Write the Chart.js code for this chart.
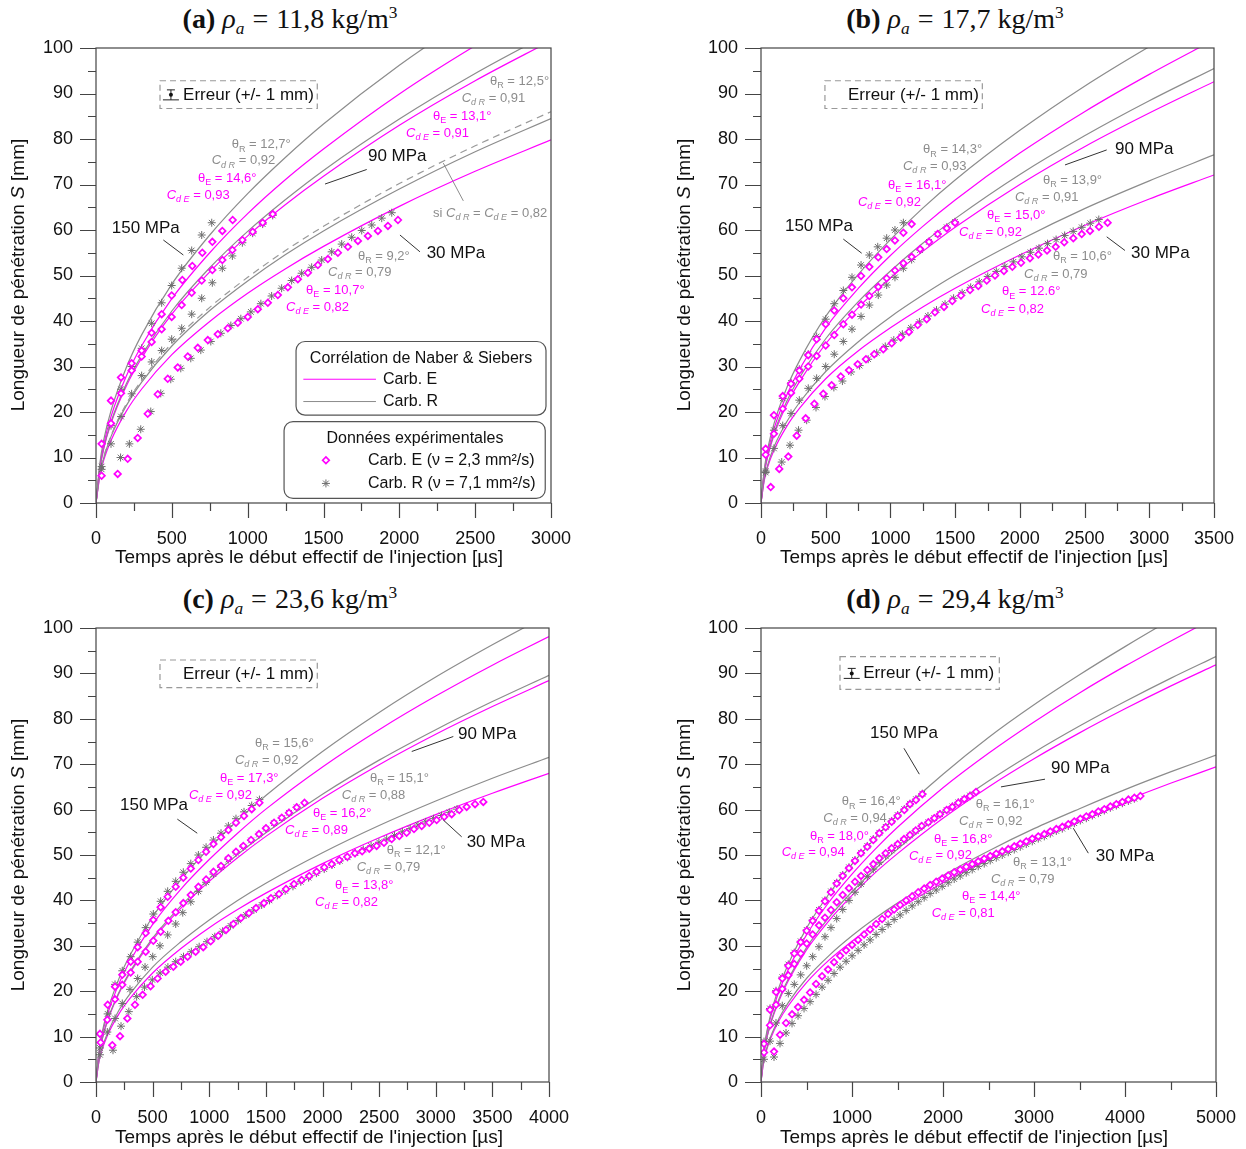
<!DOCTYPE html>
<html>
<head>
<meta charset="utf-8">
<script src="https://cdn.jsdelivr.net/npm/chart.js@4.4.0/dist/chart.umd.min.js"></script>
<style>
  body { margin: 0; background: #fff; width: 1246px; height: 1149px; position: relative; overflow: hidden;
         font-family: "Liberation Sans", Arial, sans-serif; color: #111; }
  canvas { position: absolute; }
  .ttl { position: absolute; font-family: "Liberation Serif", serif; font-size: 28px; white-space: nowrap;
         transform: translate(-50%, -50%); }
  .ttl sub, .ttl sup { font-size: 0.62em; }
  .ttl .eq { margin: 0 8px; }
  .xt { position: absolute; font-size: 19px; white-space: nowrap; transform: translate(-50%, -50%); }
  .yt { position: absolute; font-size: 19px; white-space: nowrap; transform: translate(-50%, -50%) rotate(-90deg); }
</style>
</head>
<body>
<div class="ttl" style="left:290px;top:21px"><b>(a)</b> <i>ρ<sub>a</sub></i><span class="eq">=</span>11,8 kg/m<sup>3</sup></div>
<div class="ttl" style="left:955px;top:21px"><b>(b)</b> <i>ρ<sub>a</sub></i><span class="eq">=</span>17,7 kg/m<sup>3</sup></div>
<div class="ttl" style="left:290px;top:601px"><b>(c)</b> <i>ρ<sub>a</sub></i><span class="eq">=</span>23,6 kg/m<sup>3</sup></div>
<div class="ttl" style="left:955px;top:601px"><b>(d)</b> <i>ρ<sub>a</sub></i><span class="eq">=</span>29,4 kg/m<sup>3</sup></div>

<canvas id="ca" width="620" height="575" style="left:0;top:0"></canvas>
<canvas id="cb" width="620" height="575" style="left:665px;top:0"></canvas>
<canvas id="cc" width="620" height="575" style="left:0;top:580px"></canvas>
<canvas id="cd" width="620" height="575" style="left:665px;top:580px"></canvas>

<div class="yt" style="left:18px;top:275px">Longueur de pénétration <i>S</i> [mm]</div>
<div class="yt" style="left:684px;top:275px">Longueur de pénétration <i>S</i> [mm]</div>
<div class="yt" style="left:18px;top:855px">Longueur de pénétration <i>S</i> [mm]</div>
<div class="yt" style="left:684px;top:855px">Longueur de pénétration <i>S</i> [mm]</div>
<div class="xt" style="left:309px;top:557px">Temps après le début effectif de l'injection [µs]</div>
<div class="xt" style="left:974px;top:557px">Temps après le début effectif de l'injection [µs]</div>
<div class="xt" style="left:309px;top:1137px">Temps après le début effectif de l'injection [µs]</div>
<div class="xt" style="left:974px;top:1137px">Temps après le début effectif de l'injection [µs]</div>

<script>
var MAG = '#ff00ff';
var GRY = '#8c8c8c';
var FONT = '"Liberation Sans", Arial, sans-serif';

// ---- (a) rho_a = 11,8 : Naber & Siebers curves
var tCurveA = [0, 25, 50, 100, 200, 300, 500, 750, 1000, 1250, 1500, 2000, 2500, 3000];
var a150R = [0, 8.6, 13.7, 20.4, 29.8, 36.9, 48.1, 58.9, 68.0, 76.0, 83.3, 96.2, 107.5, 117.8];
var a150E = [0, 8.0, 12.8, 19.1, 27.9, 34.5, 44.9, 55.0, 63.6, 71.1, 77.8, 89.9, 100.5, 110.1];
var a90R = [0, 7.5, 12.0, 17.9, 26.2, 32.4, 42.2, 51.7, 59.7, 66.7, 73.1, 84.4, 94.4, 103.4];
var a90E = [0, 7.4, 11.8, 17.6, 25.7, 31.8, 41.5, 50.8, 58.7, 65.6, 71.8, 83.0, 92.8, 101.6];
var a30Cd82 = [0, 6.3, 10.0, 14.9, 21.8, 26.9, 35.1, 43.0, 49.6, 55.5, 60.8, 70.2, 78.5, 86.0];
var a30R = [0, 6.2, 9.8, 14.7, 21.4, 26.5, 34.5, 42.3, 48.8, 54.6, 59.8, 69.0, 77.2, 84.5];
var a30E = [0, 5.8, 9.3, 13.8, 20.2, 25.0, 32.6, 39.9, 46.1, 51.5, 56.4, 65.2, 72.9, 79.8];
// (a) measurements
var aT150E = [37, 99, 165, 235, 301, 367, 433, 499, 569, 635, 701, 767, 833, 901];
var aS150E = [13, 22.5, 27.6, 30.7, 33.5, 37.4, 41.5, 45.6, 49, 52.1, 55, 57.4, 59.8, 62.2];
var aT90E = [37, 99, 165, 235, 301, 367, 433, 499, 565, 631, 697, 767, 833, 899, 965, 1033, 1099, 1165];
var aS90E = [6, 17.5, 24.1, 29.1, 32.2, 35.4, 38.2, 40.9, 43.5, 46.2, 48.9, 51.2, 53.4, 55.6, 57.8, 59.6, 61.6, 63.5];
var aT30E = [143, 209, 275, 341, 407, 473, 539, 605, 671, 737, 803, 869, 935, 1001, 1067, 1133, 1199, 1265, 1331, 1397, 1463, 1529, 1595, 1661, 1727, 1793, 1859, 1925, 1991];
var aS30E = [6.4, 9.7, 14.3, 19.6, 23.9, 27.3, 29.8, 32.2, 34.1, 35.8, 37.1, 38.4, 39.6, 40.9, 42.6, 44, 45.7, 47.4, 49.2, 50.6, 52.3, 53.6, 55, 56.3, 57.6, 58.7, 59.8, 60.9, 62.2];
var aT150R = [37, 99, 165, 235, 301, 367, 433, 499, 565, 631, 697, 763];
var aS150R = [8, 17, 25, 30, 34, 39.5, 44, 47.8, 51.6, 55.5, 58.9, 61.6];
var aT90R = [37, 99, 165, 235, 301, 367, 433, 499, 565, 631, 697, 767, 833, 899, 965, 1033, 1099, 1165];
var aS90R = [7.4, 13, 19, 24, 28, 31, 33.5, 36, 38.4, 41.5, 45, 48.4, 51.6, 54.3, 57.2, 59.3, 61.3, 63.2];
var aT30R = [162, 220, 295, 361, 427, 493, 559, 625, 691, 757, 823, 889, 955, 1021, 1087, 1158, 1224, 1290, 1356, 1422, 1488, 1554, 1620, 1686, 1752, 1818, 1884, 1950];
var aS30R = [10, 13, 16.2, 20.1, 24.1, 27.2, 29.6, 31.8, 33.6, 35.5, 37.3, 39, 40.5, 42, 43.8, 45.5, 47.2, 48.9, 50.5, 51.8, 53.4, 55.2, 56.9, 58.4, 59.9, 61.1, 62.6, 63.8];

// ---- (b) rho_a = 17,7
var tCurveB = [0, 25, 50, 100, 200, 300, 500, 750, 1000, 1250, 1500, 2000, 2500, 3000, 3500];
var b150R = [0, 7.3, 11.7, 17.4, 25.4, 31.4, 41.0, 50.2, 57.9, 64.8, 71.0, 81.9, 91.6, 100.3, 108.4];
var b150E = [0, 6.9, 10.9, 16.3, 23.8, 29.5, 38.5, 47.1, 54.4, 60.8, 66.6, 76.9, 86.0, 94.2, 101.8];
var b90R = [0, 6.5, 10.3, 15.3, 22.4, 27.7, 36.1, 44.2, 51.0, 57.1, 62.5, 72.2, 80.7, 88.4, 95.5];
var b90E = [0, 6.3, 10.0, 14.9, 21.7, 26.8, 35.0, 42.9, 49.5, 55.3, 60.6, 70.0, 78.3, 85.7, 92.6];
var b30R = [0, 5.2, 8.2, 12.3, 17.9, 22.2, 28.9, 35.4, 40.9, 45.7, 50.1, 57.8, 64.7, 70.8, 76.5];
var b30E = [0, 4.9, 7.8, 11.6, 16.9, 20.9, 27.3, 33.4, 38.5, 43.1, 47.2, 54.5, 61.0, 66.8, 72.1];
var bT150E = [36, 100, 168, 232, 296, 365, 430, 500, 566, 636, 703, 773, 837, 906, 971, 1035, 1100, 1164];
var bS150E = [11.9, 19.3, 23.5, 26.2, 29.1, 32.5, 36, 39.3, 42.3, 45, 47.4, 49.9, 51.9, 54, 55.8, 57.7, 59.4, 61.3];
var bT90E = [36, 100, 168, 232, 296, 365, 430, 500, 566, 636, 703, 773, 837, 906, 971, 1035, 1100, 1164, 1229, 1298, 1365, 1435, 1499];
var bS90E = [10.6, 15.2, 20.7, 24.2, 27.3, 30, 32.3, 34.6, 36.9, 39.3, 41.4, 43.6, 45.5, 47.5, 49.4, 51.1, 52.7, 54.1, 55.8, 57.4, 59.1, 60.4, 61.6];
var bT30E = [75, 141, 211, 276, 345, 412, 481, 546, 616, 680, 747, 811, 875, 945, 1010, 1079, 1143, 1211, 1280, 1344, 1414, 1478, 1545, 1615, 1679, 1744, 1808, 1877, 1942, 2009, 2078, 2143, 2210, 2277, 2343, 2413, 2478, 2542, 2611, 2678];
var bS30E = [3.5, 7.5, 10.2, 14.8, 18.6, 21.8, 24, 25.9, 27.8, 29.2, 30.5, 31.6, 32.7, 33.8, 35.1, 36.4, 37.6, 39.1, 40.4, 41.9, 43.1, 44.4, 45.6, 46.8, 47.7, 48.9, 50, 51, 51.9, 52.8, 53.8, 54.6, 55.5, 56.3, 57.3, 58.2, 59.1, 59.8, 60.7, 61.6];
var bT150R = [36, 100, 168, 232, 296, 365, 430, 500, 566, 636, 703, 773, 837, 902, 971, 1035, 1100];
var bS150R = [6.7, 16, 23, 26.4, 29.4, 32.7, 36.6, 40.4, 43.8, 46.7, 49.6, 52.3, 54.5, 56.3, 58.2, 60, 61.6];
var bT90R = [36, 100, 168, 232, 296, 365, 430, 500, 566, 636, 703, 773, 837, 906, 971, 1035, 1100, 1164, 1229, 1298, 1365, 1435, 1499];
var bS90R = [7, 12, 17, 19.7, 22.6, 25.2, 27.4, 30, 32.7, 35.5, 38.2, 41, 43.5, 45.7, 47.9, 49.6, 51.6, 53.5, 55.6, 57.4, 59.1, 60.6, 61.8];
var bT30R = [160, 224, 290, 353, 425, 494, 563, 629, 696, 762, 828, 894, 960, 1026, 1092, 1158, 1224, 1290, 1356, 1422, 1488, 1554, 1620, 1686, 1752, 1818, 1884, 1950, 2016, 2082, 2148, 2214, 2280, 2346, 2412, 2478, 2544, 2610];
var bS30R = [9, 12.7, 16, 18.2, 21, 23.4, 25.4, 26.8, 28.8, 30.2, 31.6, 33, 34.4, 35.8, 37.1, 38.5, 39.8, 41.1, 42.4, 43.7, 45, 46.2, 47.4, 48.6, 49.8, 50.9, 52, 53, 54.1, 55.1, 56, 57, 57.9, 58.8, 59.7, 60.6, 61.5, 62.3];

// ---- (c) rho_a = 23,6
var tCurveC = [0, 25, 50, 100, 200, 300, 500, 750, 1000, 1250, 1500, 2000, 2500, 3000, 3500, 4000];
var c150R = [0, 6.5, 10.4, 15.5, 22.6, 27.9, 36.4, 44.6, 51.5, 57.6, 63.1, 72.8, 81.4, 89.2, 96.3, 103.0];
var c150E = [0, 6.2, 9.9, 14.7, 21.5, 26.6, 34.7, 42.5, 49.0, 54.8, 60.1, 69.4, 77.6, 85.0, 91.8, 98.1];
var c90R = [0, 5.7, 9.0, 13.5, 19.6, 24.3, 31.7, 38.8, 44.8, 50.1, 54.9, 63.4, 70.9, 77.6, 83.8, 89.6];
var c90E = [0, 5.6, 8.9, 13.3, 19.4, 24.0, 31.3, 38.3, 44.2, 49.4, 54.1, 62.5, 69.9, 76.6, 82.7, 88.4];
var c30R = [0, 4.5, 7.2, 10.7, 15.7, 19.4, 25.3, 30.9, 35.7, 40.0, 43.8, 50.5, 56.5, 61.9, 66.9, 71.5];
var c30E = [0, 4.3, 6.8, 10.2, 14.9, 18.4, 24.0, 29.4, 34.0, 38.0, 41.6, 48.1, 53.8, 58.9, 63.6, 68.0];
var cT150E = [35, 103, 168, 232, 306, 368, 439, 506, 571, 633, 704, 771, 837, 904, 972, 1037, 1104, 1169, 1236, 1307, 1375, 1443];
var cS150E = [10.6, 17, 21, 23.6, 26.5, 29.7, 32.8, 35.7, 38.5, 40.8, 43, 45, 47, 48.9, 50.7, 52.4, 53.9, 55.5, 57.1, 58.6, 60.1, 61.5];
var cT90E = [41, 100, 168, 232, 306, 368, 439, 506, 571, 639, 704, 771, 837, 904, 972, 1037, 1104, 1169, 1236, 1301, 1369, 1439, 1501, 1572, 1640, 1704, 1772, 1841];
var cS90E = [8.7, 13.7, 18.2, 21.4, 24.1, 26.5, 28.7, 31.1, 33.1, 35.5, 37.4, 39.4, 41.2, 43, 44.6, 46.3, 47.6, 49.3, 50.7, 52, 53.3, 54.6, 55.9, 57.1, 58.2, 59.3, 60.5, 61.5];
var cT30E = [144, 212, 277, 344, 412, 482, 544, 615, 683, 748, 809, 880, 947, 1013, 1080, 1148, 1213, 1280, 1351, 1413, 1483, 1545, 1616, 1678, 1748, 1816, 1883, 1948, 2016, 2081, 2148, 2219, 2286, 2350, 2413, 2478, 2543, 2611, 2678, 2743, 2808, 2876, 2943, 3008, 3075, 3141, 3208, 3273, 3347, 3420];
var cS30E = [8.1, 10.1, 14, 17, 19.2, 21.1, 22.8, 24.3, 25.4, 26.5, 27.6, 28.7, 29.7, 31, 32.2, 33.5, 34.8, 36.1, 37.2, 38.3, 39.4, 40.5, 41.4, 42.5, 43.6, 44.5, 45.4, 46.3, 47.3, 48, 48.9, 49.6, 50.4, 50.8, 51.4, 52, 52.7, 53.5, 54.2, 54.9, 55.7, 56.4, 57.1, 57.7, 58.4, 59, 59.9, 60.6, 61.2, 61.7];
var cT150R = [35, 103, 168, 232, 306, 368, 439, 506, 571, 633, 704, 771, 837, 904, 972, 1037, 1104, 1169, 1236, 1307, 1375, 1443];
var cS150R = [7.5, 15, 21.5, 24.5, 27.6, 30.8, 34, 37, 39.8, 42, 44.2, 46.2, 48.1, 50, 51.7, 53.3, 54.8, 56.4, 58, 59.5, 60.9, 62.2];
var cT90R = [35, 100, 168, 232, 300, 368, 433, 501, 565, 633, 704, 766, 837, 904, 972, 1037, 1104, 1169, 1236, 1301, 1369, 1439, 1501, 1572, 1640, 1704, 1772];
var cS90R = [6, 11, 14, 17.3, 20.4, 22.8, 25.3, 27.6, 30, 32.4, 34.8, 37.3, 39.7, 42, 44, 45.8, 47.3, 49, 50.5, 51.8, 53.2, 54.5, 55.8, 57, 58.1, 59.3, 60.5];
var cT30R = [150, 221, 290, 359, 428, 497, 566, 635, 704, 773, 842, 911, 980, 1049, 1118, 1187, 1256, 1325, 1394, 1463, 1532, 1601, 1670, 1739, 1808, 1877, 1946, 2015, 2084, 2153, 2222, 2291, 2360, 2429, 2498, 2567, 2636, 2705, 2774, 2843, 2912, 2981, 3050, 3119, 3188];
var cS30R = [7, 12.3, 15.5, 18.8, 20.9, 22.5, 24, 25.3, 26.5, 27.6, 28.7, 29.8, 30.9, 32, 33.2, 34.4, 35.6, 36.8, 37.9, 39, 40, 41.1, 42.1, 43.1, 44.1, 45, 46, 46.9, 47.8, 48.7, 49.5, 50.4, 51.2, 52, 52.8, 53.5, 54.3, 55.1, 55.8, 56.6, 57.3, 58, 58.7, 59.4, 60.1];

// ---- (d) rho_a = 29,4
var tCurveD = [0, 25, 50, 100, 200, 300, 500, 750, 1000, 1250, 1500, 2000, 2500, 3000, 3500, 4000, 4500, 5000];
var d150R = [0, 6.1, 9.6, 14.4, 21.0, 26.0, 33.9, 41.5, 48.0, 53.6, 58.8, 67.8, 75.9, 83.1, 89.7, 95.9, 101.8, 107.3];
var d150E = [0, 5.8, 9.2, 13.8, 20.1, 24.8, 32.4, 39.7, 45.8, 51.2, 56.1, 64.8, 72.4, 79.3, 85.7, 91.6, 97.1, 102.4];
var d90R = [0, 5.3, 8.4, 12.6, 18.4, 22.7, 29.6, 36.3, 41.9, 46.8, 51.3, 59.3, 66.3, 72.6, 78.4, 83.8, 88.9, 93.7];
var d90E = [0, 5.2, 8.3, 12.4, 18.0, 22.3, 29.1, 35.6, 41.1, 46.0, 50.3, 58.1, 65.0, 71.2, 76.9, 82.2, 87.2, 91.9];
var d30R = [0, 4.1, 6.5, 9.7, 14.1, 17.5, 22.8, 27.9, 32.2, 36.0, 39.4, 45.5, 50.9, 55.8, 60.2, 64.4, 68.3, 72.0];
var d30E = [0, 3.9, 6.2, 9.3, 13.6, 16.8, 21.9, 26.9, 31.0, 34.7, 38.0, 43.9, 49.1, 53.7, 58.0, 62.0, 65.8, 69.4];
var dT150 = [33, 99, 165, 234, 300, 366, 436, 502, 568, 637, 703, 769, 832, 898, 967, 1033, 1099, 1168, 1234, 1300, 1370, 1436, 1502, 1575, 1637, 1703, 1773];
var dS150E = [8.4, 15.9, 19.8, 22.8, 25.6, 28.3, 30.8, 33.3, 35.5, 37.7, 39.8, 41.8, 43.7, 45.4, 47.1, 48.7, 50.4, 51.8, 53.3, 54.8, 56.1, 57.3, 58.6, 59.9, 61.2, 62.1, 63.4];
var dS150R = [8.9, 16.2, 20.1, 23.1, 25.9, 28.5, 31, 33.5, 35.7, 37.9, 40, 42, 43.9, 45.6, 47.3, 48.9, 50.5, 52, 53.5, 54.9, 56.2, 57.5, 58.8, 60.1, 61.3, 62.3, 63.5];
var dT90 = [33, 99, 165, 234, 300, 366, 436, 502, 568, 637, 703, 769, 832, 898, 967, 1033, 1099, 1168, 1234, 1300, 1370, 1436, 1502, 1571, 1637, 1700, 1766, 1839, 1905, 1967, 2040, 2103, 2168, 2234, 2297, 2363];
var dS90E = [6.5, 12.5, 17, 20.5, 23.5, 26, 28.3, 30.5, 32.5, 34.5, 36.2, 37.9, 39.6, 41.2, 42.7, 44.1, 45.4, 46.7, 48, 49.3, 50.4, 51.5, 52.4, 53.5, 54.4, 55.4, 56.4, 57.2, 58.1, 59, 59.9, 60.6, 61.5, 62.3, 63, 63.9];
var dS90R = [5, 9, 13, 16.8, 19.5, 21.5, 23.6, 25.6, 27.6, 29.8, 32, 34, 36, 38, 40, 41.8, 43.6, 45.3, 46.9, 48.4, 49.8, 51, 52.1, 53.2, 54.3, 55.3, 56.3, 57.2, 58.1, 59, 59.9, 60.7, 61.6, 62.4, 63.1];
var dT30 = [143, 209, 275, 341, 407, 473, 539, 605, 671, 737, 803, 869, 935, 1001, 1067, 1133, 1199, 1265, 1331, 1397, 1463, 1529, 1595, 1661, 1727, 1793, 1859, 1925, 1991, 2057, 2123, 2189, 2255, 2321, 2387, 2453, 2519, 2585, 2651, 2717, 2783, 2849, 2915, 2981, 3047, 3113, 3179, 3245, 3311, 3377, 3443, 3509, 3575, 3641, 3707, 3773, 3839, 3905, 3971, 4037, 4103, 4169];
var dS30E = [6.7, 10.4, 13.0, 14.9, 16.5, 18.1, 19.7, 21.6, 23.3, 24.8, 26.4, 27.8, 29.0, 30.2, 31.3, 32.5, 33.6, 34.8, 35.9, 37.0, 38.0, 39.0, 40.0, 40.9, 41.8, 42.6, 43.4, 44.1, 44.8, 45.5, 46.2, 46.8, 47.4, 48.0, 48.6, 49.2, 49.8, 50.3, 50.8, 51.3, 51.9, 52.5, 53.0, 53.6, 54.1, 54.6, 55.2, 55.7, 56.2, 56.8, 57.4, 58.0, 58.5, 59.0, 59.6, 60.1, 60.7, 61.2, 61.7, 62.2, 62.6, 63.0];
var dS30R = [5.5, 8.5, 10.8, 12.9, 14.6, 16.2, 17.7, 19.3, 20.9, 22.4, 23.9, 25.3, 26.6, 27.8, 29.0, 30.2, 31.3, 32.5, 33.6, 34.7, 35.8, 36.8, 37.8, 38.8, 39.7, 40.6, 41.5, 42.3, 43.1, 43.9, 44.7, 45.4, 46.1, 46.8, 47.5, 48.1, 48.8, 49.4, 50.0, 50.6, 51.2, 51.8, 52.4, 53.0, 53.6, 54.1, 54.7, 55.3, 55.8, 56.4, 57.0, 57.6, 58.1, 58.7, 59.2, 59.8, 60.4, 60.9, 61.4, 61.9, 62.4];

function pts(t, s) {
    return s.map(function (v, i) { return {x: t[i], y: v}; });
}
function curve(t, s, color, dash) {
    return {data: pts(t, s), showLine: true, borderColor: color, borderWidth: 1.2, borderDash: dash || [],
            pointRadius: 0, cubicInterpolationMode: 'monotone', order: 3};
}
function diamonds(t, s) {
    return {data: pts(t, s), showLine: false, pointStyle: 'rectRot', pointRadius: 3.3, borderWidth: 1.7,
            borderColor: MAG, backgroundColor: '#fff', order: 1};
}
function stars(t, s) {
    return {data: pts(t, s), showLine: false, pointStyle: 'star', pointRadius: 4, borderWidth: 1,
            borderColor: '#6e6e6e', backgroundColor: '#6e6e6e', order: 2};
}

// annotation helpers (positions in data units)
function th(x, y, sub, val, c) {
    return {k: 'txt', x: x, y: y, c: c, s: 13, p: [{t: 'θ'}, {t: sub, sub: 1}, {t: ' = ' + val + '°'}]};
}
function cd(x, y, sub, val, c) {
    return {k: 'txt', x: x, y: y, c: c, s: 13, p: [{t: 'C', it: 1}, {t: 'd ' + sub, sub: 1, it: 1}, {t: ' = ' + val}]};
}
function lbl(x, y, text) { return {k: 'txt', x: x, y: y, s: 17, p: text}; }
function lead(x1, y1, x2, y2, c) { return {k: 'ln', x1: x1, y1: y1, x2: x2, y2: y2, c: c || '#333'}; }

function rich(ctx, x, y, parts, size, color, align) {
    if (typeof parts === 'string') parts = [{t: parts}];
    var fonts = parts.map(function (p) {
        return (p.it ? 'italic ' : '') + (p.sub ? Math.round(size * 0.72) : size) + 'px ' + FONT;
    });
    var w = 0;
    parts.forEach(function (p, i) { ctx.font = fonts[i]; w += ctx.measureText(p.t).width; });
    var cx = align === 'center' ? x - w / 2 : x;
    ctx.fillStyle = color;
    ctx.textBaseline = 'middle';
    ctx.textAlign = 'left';
    parts.forEach(function (p, i) {
        ctx.font = fonts[i];
        ctx.fillText(p.t, cx, y + (p.sub ? size * 0.32 : 0));
        cx += ctx.measureText(p.t).width;
    });
}
function roundBox(ctx, x1, y1, x2, y2, r) {
    ctx.beginPath();
    ctx.moveTo(x1 + r, y1);
    ctx.lineTo(x2 - r, y1); ctx.arcTo(x2, y1, x2, y1 + r, r);
    ctx.lineTo(x2, y2 - r); ctx.arcTo(x2, y2, x2 - r, y2, r);
    ctx.lineTo(x1 + r, y2); ctx.arcTo(x1, y2, x1, y2 - r, r);
    ctx.lineTo(x1, y1 + r); ctx.arcTo(x1, y1, x1 + r, y1, r);
    ctx.closePath();
}

var framePlugin = {
    id: 'frame',
    afterDraw: function (chart, args, o) {
        var ctx = chart.ctx, a = chart.chartArea, x = chart.scales.x, y = chart.scales.y;
        ctx.save();
        ctx.strokeStyle = '#444';
        ctx.lineWidth = 1.2;
        ctx.strokeRect(a.left, a.top, a.right - a.left, a.bottom - a.top);
        ctx.beginPath();
        x.ticks.forEach(function (t) {
            var px = Math.round(x.getPixelForValue(t.value)) + 0.5;
            var len = Math.round(t.value) % o.xMajor === 0 ? 15 : 8;
            ctx.moveTo(px, a.bottom); ctx.lineTo(px, a.bottom + len);
        });
        y.ticks.forEach(function (t) {
            var py = Math.round(y.getPixelForValue(t.value)) + 0.5;
            var len = Math.round(t.value) % 10 === 0 ? 16 : 8;
            ctx.moveTo(a.left, py); ctx.lineTo(a.left - len, py);
        });
        ctx.stroke();
        ctx.restore();
    }
};

var notesPlugin = {
    id: 'notes',
    afterDatasetsDraw: function (chart, args, o) {
        var ctx = chart.ctx, sx = chart.scales.x, sy = chart.scales.y;
        function X(v) { return sx.getPixelForValue(v); }
        function Y(v) { return sy.getPixelForValue(v); }
        ctx.save();
        o.items.forEach(function (n) {
            if (n.k === 'txt') {
                rich(ctx, X(n.x), Y(n.y), n.p, n.s || 13, n.c || '#111', n.a);
            } else if (n.k === 'ln' || n.k === 'seg') {
                ctx.strokeStyle = n.c; ctx.lineWidth = 1; ctx.setLineDash([]);
                ctx.beginPath();
                ctx.moveTo(X(n.x1), Y(n.k === 'seg' ? n.y : n.y1));
                ctx.lineTo(X(n.x2), Y(n.k === 'seg' ? n.y : n.y2));
                ctx.stroke();
            } else if (n.k === 'dbox') {
                ctx.strokeStyle = '#999'; ctx.lineWidth = 1.2; ctx.setLineDash([6, 4]);
                ctx.strokeRect(X(n.x1), Y(n.y1), X(n.x2) - X(n.x1), Y(n.y2) - Y(n.y1));
                ctx.setLineDash([]);
            } else if (n.k === 'rbox') {
                roundBox(ctx, X(n.x1), Y(n.y1), X(n.x2), Y(n.y2), 9);
                ctx.fillStyle = '#fff'; ctx.fill();
                ctx.strokeStyle = '#555'; ctx.lineWidth = 1.2; ctx.stroke();
            } else if (n.k === 'err') {
                var cx = X(n.x), cy = Y(n.y);
                ctx.strokeStyle = '#222'; ctx.lineWidth = 1;
                ctx.beginPath();
                ctx.moveTo(cx - 4, cy - 5); ctx.lineTo(cx + 4, cy - 5);
                ctx.moveTo(cx, cy - 5); ctx.lineTo(cx, cy + 5);
                ctx.moveTo(cx - 8, cy + 5); ctx.lineTo(cx + 8, cy + 5);
                ctx.stroke();
                ctx.fillStyle = '#111';
                ctx.beginPath(); ctx.arc(cx, cy, 2, 0, Math.PI * 2); ctx.fill();
            } else if (n.k === 'dia') {
                var dx = X(n.x), dy = Y(n.y);
                ctx.strokeStyle = MAG; ctx.lineWidth = 1.7;
                ctx.beginPath();
                ctx.moveTo(dx - 3.3, dy); ctx.lineTo(dx, dy - 3.3); ctx.lineTo(dx + 3.3, dy); ctx.lineTo(dx, dy + 3.3);
                ctx.closePath(); ctx.stroke();
            } else if (n.k === 'star') {
                var qx = X(n.x), qy = Y(n.y), r = 4, d = r * Math.SQRT1_2;
                ctx.strokeStyle = '#6e6e6e'; ctx.lineWidth = 1;
                ctx.beginPath();
                ctx.moveTo(qx - r, qy); ctx.lineTo(qx + r, qy);
                ctx.moveTo(qx, qy - r); ctx.lineTo(qx, qy + r);
                ctx.moveTo(qx - d, qy - d); ctx.lineTo(qx + d, qy + d);
                ctx.moveTo(qx - d, qy + d); ctx.lineTo(qx + d, qy - d);
                ctx.stroke();
            }
        });
        ctx.restore();
    }
};

function makeChart(id, cfg) {
    return new Chart(document.getElementById(id), {
        type: 'scatter',
        data: {datasets: cfg.datasets},
        options: {
            responsive: false,
            animation: false,
            events: [],
            layout: {padding: {top: 48, right: cfg.padRight, left: 0, bottom: 0}},
            plugins: {
                legend: {display: false},
                tooltip: {enabled: false},
                frame: {xMajor: cfg.xMajor},
                notes: {items: cfg.notes}
            },
            scales: {
                x: {
                    type: 'linear', min: 0, max: cfg.xMax,
                    afterFit: function (s) { s.height = cfg.xH; },
                    grid: {display: false, drawTicks: false},
                    border: {display: false},
                    ticks: {
                        stepSize: cfg.xMajor / 2, autoSkip: false, maxRotation: 0, padding: 25,
                        color: '#111', font: {family: FONT, size: 18},
                        callback: function (v) { return Math.round(v) % cfg.xMajor === 0 ? String(v) : ''; }
                    }
                },
                y: {
                    min: 0, max: 100,
                    afterFit: function (s) { s.width = 96; },
                    grid: {display: false, drawTicks: false},
                    border: {display: false},
                    ticks: {
                        stepSize: 5, autoSkip: false, padding: 23,
                        color: '#111', font: {family: FONT, size: 18},
                        callback: function (v) { return Math.round(v) % 10 === 0 ? String(v) : ''; }
                    }
                }
            }
        },
        plugins: [framePlugin, notesPlugin]
    });
}

var siParts = [{t: 'si '}, {t: 'C', it: 1}, {t: 'd R', sub: 1, it: 1}, {t: ' = '}, {t: 'C', it: 1}, {t: 'd E', sub: 1, it: 1}, {t: ' = 0,82'}];

makeChart('ca', {
    xMax: 3000, xMajor: 500, padRight: 69, xH: 72,
    datasets: [
        diamonds(aT150E, aS150E), diamonds(aT90E, aS90E), diamonds(aT30E, aS30E),
        stars(aT150R, aS150R), stars(aT90R, aS90R), stars(aT30R, aS30R),
        curve(tCurveA, a150R, GRY), curve(tCurveA, a150E, MAG),
        curve(tCurveA, a90R, GRY), curve(tCurveA, a90E, MAG),
        curve(tCurveA, a30Cd82, '#999', [7, 5]),
        curve(tCurveA, a30R, GRY), curve(tCurveA, a30E, MAG)
    ],
    notes: [
        {k: 'dbox', x1: 422, y1: 92.8, x2: 1459, y2: 86.7},
        {k: 'err', x: 494, y: 89.7},
        lbl(574, 89.7, 'Erreur (+/- 1 mm)'),
        th(2598, 92.6, 'R', '12,5', GRY), cd(2411, 88.9, 'R', '0,91', GRY),
        th(2222, 84.9, 'E', '13,1', MAG), cd(2044, 81.3, 'E', '0,91', MAG),
        th(895, 78.7, 'R', '12,7', GRY), cd(763, 75.2, 'R', '0,92', GRY),
        th(672, 71.4, 'E', '14,6', MAG), cd(466, 67.7, 'E', '0,93', MAG),
        lbl(1793, 76.1, '90 MPa'), lead(1785, 73.3, 1510, 70.1),
        lbl(104, 60.4, '150 MPa'), lead(444, 57.8, 576, 54.5),
        lbl(2180, 54.9, '30 MPa'), lead(2004, 58.9, 2136, 55.2),
        {k: 'txt', x: 2222, y: 63.7, s: 13, c: GRY, p: siParts}, lead(2422, 66.4, 2290, 74.7, GRY),
        th(1727, 54.3, 'R', '9,2', GRY), cd(1530, 50.7, 'R', '0,79', GRY),
        th(1385, 46.8, 'E', '10,7', MAG), cd(1253, 43.0, 'E', '0,82', MAG),
        {k: 'rbox', x1: 1319, y1: 35.5, x2: 2967, y2: 19.3},
        {k: 'txt', x: 2143, y: 31.7, s: 16, a: 'center', p: 'Corrélation de Naber & Siebers'},
        {k: 'seg', x1: 1367, x2: 1846, y: 27.2, c: MAG}, {k: 'txt', x: 1892, y: 27.2, s: 16, p: 'Carb. E'},
        {k: 'seg', x1: 1367, x2: 1846, y: 22.3, c: GRY}, {k: 'txt', x: 1892, y: 22.3, s: 16, p: 'Carb. R'},
        {k: 'rbox', x1: 1240, y1: 17.9, x2: 2962, y2: 1.0},
        {k: 'txt', x: 2103, y: 14.1, s: 16, a: 'center', p: 'Données expérimentales'},
        {k: 'dia', x: 1516, y: 9.4}, {k: 'txt', x: 1793, y: 9.4, s: 16, p: 'Carb. E (ν = 2,3 mm²/s)'},
        {k: 'star', x: 1516, y: 4.3}, {k: 'txt', x: 1793, y: 4.3, s: 16, p: 'Carb. R (ν = 7,1 mm²/s)'}
    ]
});

makeChart('cb', {
    xMax: 3500, xMajor: 500, padRight: 71, xH: 72,
    datasets: [
        diamonds(bT150E, bS150E), diamonds(bT90E, bS90E), diamonds(bT30E, bS30E),
        stars(bT150R, bS150R), stars(bT90R, bS90R), stars(bT30R, bS30R),
        curve(tCurveB, b150R, GRY), curve(tCurveB, b150E, MAG),
        curve(tCurveB, b90R, GRY), curve(tCurveB, b90E, MAG),
        curve(tCurveB, b30R, GRY), curve(tCurveB, b30E, MAG)
    ],
    notes: [
        {k: 'dbox', x1: 494, y1: 92.8, x2: 1710, y2: 86.7},
        lbl(672, 89.7, 'Erreur (+/- 1 mm)'),
        th(1252, 77.6, 'R', '14,3', GRY), cd(1097, 73.9, 'R', '0,93', GRY),
        th(981, 69.9, 'E', '16,1', MAG), cd(749, 66.1, 'E', '0,92', MAG),
        lbl(185, 60.9, '150 MPa'), lead(636, 58, 778, 54.9),
        lbl(2735, 77.7, '90 MPa'), lead(2671, 77.6, 2349, 74.3),
        th(2179, 71, 'R', '13,9', GRY), cd(1962, 67.2, 'R', '0,91', GRY),
        th(1746, 63.3, 'E', '15,0', MAG), cd(1530, 59.5, 'E', '0,92', MAG),
        lbl(2859, 54.9, '30 MPa'), lead(2812, 55.5, 2671, 58.5),
        th(2256, 54.1, 'R', '10,6', GRY), cd(2032, 50.3, 'R', '0,79', GRY),
        th(1862, 46.4, 'E', '12.6', MAG), cd(1700, 42.6, 'E', '0,82', MAG)
    ]
});

makeChart('cc', {
    xMax: 4000, xMajor: 500, padRight: 71, xH: 73,
    datasets: [
        diamonds(cT150E, cS150E), diamonds(cT90E, cS90E), diamonds(cT30E, cS30E),
        stars(cT150R, cS150R), stars(cT90R, cS90R), stars(cT30R, cS30R),
        curve(tCurveC, c150R, GRY), curve(tCurveC, c150E, MAG),
        curve(tCurveC, c90R, GRY), curve(tCurveC, c90E, MAG),
        curve(tCurveC, c30R, GRY), curve(tCurveC, c30E, MAG)
    ],
    notes: [
        {k: 'dbox', x1: 565, y1: 92.95, x2: 1954, y2: 86.85},
        lbl(768, 89.9, 'Erreur (+/- 1 mm)'),
        th(1404, 74.6, 'R', '15,6', GRY), cd(1227, 70.9, 'R', '0,92', GRY),
        th(1095, 66.9, 'E', '17,3', MAG), cd(821, 63.2, 'E', '0,92', MAG),
        lbl(212, 61, '150 MPa'), lead(718, 57.9, 894, 54.8),
        lbl(3196, 76.6, '90 MPa'), lead(3155, 76.1, 2788, 72.8),
        th(2419, 66.9, 'R', '15,1', GRY), cd(2170, 63.2, 'R', '0,88', GRY),
        th(1916, 59.2, 'E', '16,2', MAG), cd(1669, 55.5, 'E', '0,89', MAG),
        lbl(3273, 52.9, '30 MPa'), lead(3229, 54, 3067, 57.7),
        th(2567, 51.1, 'R', '12,1', GRY), cd(2302, 47.3, 'R', '0,79', GRY),
        th(2110, 43.2, 'E', '13,8', MAG), cd(1934, 39.5, 'E', '0,82', MAG)
    ]
});

makeChart('cd', {
    xMax: 5000, xMajor: 1000, padRight: 69, xH: 73,
    datasets: [
        diamonds(dT150, dS150E), diamonds(dT90, dS90E), diamonds(dT30, dS30E),
        stars(dT150, dS150R), stars(dT90, dS90R), stars(dT30, dS30R),
        curve(tCurveD, d150R, GRY), curve(tCurveD, d150E, MAG),
        curve(tCurveD, d90R, GRY), curve(tCurveD, d90E, MAG),
        curve(tCurveD, d30R, GRY), curve(tCurveD, d30E, MAG)
    ],
    notes: [
        {k: 'dbox', x1: 868, y1: 93.7, x2: 2619, y2: 86.5},
        {k: 'err', x: 997, y: 90},
        lbl(1124, 90, 'Erreur (+/- 1 mm)'),
        lbl(1198, 76.8, '150 MPa'), lead(1571, 73.5, 1740, 67.8),
        lbl(3187, 69.1, '90 MPa'), lead(3121, 66.7, 2637, 65),
        th(887, 61.7, 'R', '16,4', GRY), cd(685, 58.1, 'R', '0,94', GRY),
        th(538, 54, 'R', '18,0', MAG), cd(227, 50.5, 'E', '0,94', MAG),
        th(2359, 61.2, 'R', '16,1', GRY), cd(2176, 57.5, 'R', '0,92', GRY),
        th(1901, 53.5, 'E', '16,8', MAG), cd(1626, 49.8, 'E', '0,92', MAG),
        lbl(3678, 49.8, '30 MPa'), lead(3597, 50.4, 3432, 55.9),
        th(2769, 48.4, 'R', '13,1', GRY), cd(2527, 44.7, 'R', '0,79', GRY),
        th(2209, 40.8, 'E', '14,4', MAG), cd(1876, 37.2, 'E', '0,81', MAG)
    ]
});
</script>
</body>
</html>
